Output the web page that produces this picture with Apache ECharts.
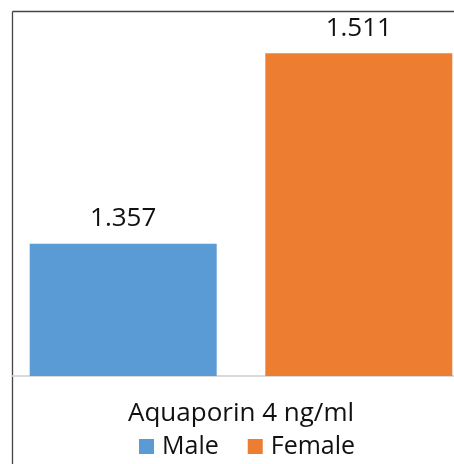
<!DOCTYPE html>
<html><head><meta charset="utf-8">
<script src="https://cdn.jsdelivr.net/npm/echarts@6/dist/echarts.min.js"></script>
<style>html,body{margin:0;padding:0;background:#fff}#c{width:454px;height:464px}</style>
</head><body><div id="c"></div>
<script>
const categories = ['Aquaporin 4 ng/ml'];
const seriesNames = ['Male', 'Female'];
const maleValues = [1.357];
const femaleValues = [1.511];
const colors = ['#5B9BD5', '#ED7D31'];

const chart = echarts.init(document.getElementById('c'));
const font = 'Open Sans';
const mkSeries = (name, data, color) => ({
  name, type: 'bar', data, barWidth: 187, barGap: '26%',
  itemStyle: { color },
  label: { show: true, position: 'top', distance: 12, formatter: p => p.value.toFixed(3),
    fontFamily: font, fontSize: 26, color: '#111' }
});
chart.setOption({
  animation: false,
  grid: { left: 13, top: 5, bottom: 88, width: 456, containLabel: false, outerBoundsMode: 'none' },
  legend: { bottom: 0, left: 134, itemWidth: 15, itemHeight: 15, itemGap: 29,
    icon: 'rect', textStyle: { fontFamily: font, fontSize: 25, color: '#111', padding: [0, 0, 0, 3] },
    data: seriesNames },
  xAxis: { type: 'category', data: categories,
    axisLine: { lineStyle: { color: '#d9d9d9', width: 2 } }, axisTick: { show: false },
    axisLabel: { fontFamily: font, fontSize: 26, color: '#111', margin: 25 } },
  yAxis: { type: 'value', min: 1.25, max: 1.55, show: false, splitLine: { show: false } },
  series: [mkSeries(seriesNames[0], maleValues, colors[0]), mkSeries(seriesNames[1], femaleValues, colors[1])],
  graphic: [
    { type: 'line', shape: { x1: 12.5, y1: 11.5, x2: 454, y2: 11.5 }, style: { stroke: '#444', lineWidth: 1.3 } },
    { type: 'line', shape: { x1: 12.5, y1: 11.5, x2: 12.5, y2: 464 }, style: { stroke: '#444', lineWidth: 1.3 } }
  ]
});
</script></body></html>
